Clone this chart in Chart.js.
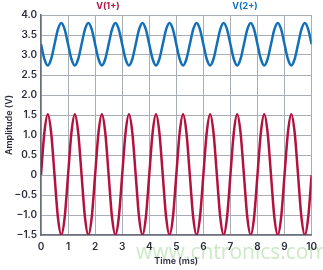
<!DOCTYPE html>
<html>
<head>
<meta charset="utf-8">
<script src="https://cdn.jsdelivr.net/npm/chart.js@4/dist/chart.umd.min.js"></script>
<style>
  html, body { margin: 0; background: #fff; }
  #wrap { width: 323px; height: 270px; }
</style>
</head>
<body>
<div id="wrap"><canvas id="chart" width="323" height="270"></canvas></div>
<script>
const timeMs = [
  0, 0.125, 0.25, 0.375, 0.5, 0.625, 0.75, 0.875,
  1, 1.125, 1.25, 1.375, 1.5, 1.625, 1.75, 1.875,
  2, 2.125, 2.25, 2.375, 2.5, 2.625, 2.75, 2.875,
  3, 3.125, 3.25, 3.375, 3.5, 3.625, 3.75, 3.875,
  4, 4.125, 4.25, 4.375, 4.5, 4.625, 4.75, 4.875,
  5, 5.125, 5.25, 5.375, 5.5, 5.625, 5.75, 5.875,
  6, 6.125, 6.25, 6.375, 6.5, 6.625, 6.75, 6.875,
  7, 7.125, 7.25, 7.375, 7.5, 7.625, 7.75, 7.875,
  8, 8.125, 8.25, 8.375, 8.5, 8.625, 8.75, 8.875,
  9, 9.125, 9.25, 9.375, 9.5, 9.625, 9.75, 9.875,
  10
];
const v1 = [
  0, 1.06, 1.52, 1.06, 0, -1.06, -1.5, -1.06,
  0, 1.06, 1.52, 1.06, 0, -1.06, -1.5, -1.06,
  0, 1.06, 1.52, 1.06, 0, -1.06, -1.5, -1.06,
  0, 1.06, 1.52, 1.06, 0, -1.06, -1.5, -1.06,
  0, 1.06, 1.52, 1.06, 0, -1.06, -1.5, -1.06,
  0, 1.06, 1.52, 1.06, 0, -1.06, -1.5, -1.06,
  0, 1.06, 1.52, 1.06, 0, -1.06, -1.5, -1.06,
  0, 1.06, 1.52, 1.06, 0, -1.06, -1.5, -1.06,
  0, 1.06, 1.52, 1.06, 0, -1.06, -1.5, -1.06,
  0, 1.06, 1.52, 1.06, 0, -1.06, -1.5, -1.06,
  0
];
const v2 = [
  3.27, 2.9, 2.74, 2.9, 3.27, 3.64, 3.8, 3.64,
  3.27, 2.9, 2.74, 2.9, 3.27, 3.64, 3.8, 3.64,
  3.27, 2.9, 2.74, 2.9, 3.27, 3.64, 3.8, 3.64,
  3.27, 2.9, 2.74, 2.9, 3.27, 3.64, 3.8, 3.64,
  3.27, 2.9, 2.74, 2.9, 3.27, 3.64, 3.8, 3.64,
  3.27, 2.9, 2.74, 2.9, 3.27, 3.64, 3.8, 3.64,
  3.27, 2.9, 2.74, 2.9, 3.27, 3.64, 3.8, 3.64,
  3.27, 2.9, 2.74, 2.9, 3.27, 3.64, 3.8, 3.64,
  3.27, 2.9, 2.74, 2.9, 3.27, 3.64, 3.8, 3.64,
  3.27, 2.9, 2.74, 2.9, 3.27, 3.64, 3.8, 3.64,
  3.27
];

const red = '#b3123f';
const blue = '#1270b8';
const ink = '#2b2d3c';
const grid = '#a9adb5';

const points = (ys) => ys.map((y, i) => ({ x: timeMs[i], y }));

const extras = {
  id: 'extras',
  beforeDraw(chart) {
    const ctx = chart.ctx;
    ctx.save();
    ctx.font = '21px "Open Sans"';
    ctx.fillStyle = 'rgba(160, 215, 150, 0.55)';
    ctx.textAlign = 'center';
    ctx.textBaseline = 'middle';
    ctx.fillText('www.cntronics.com', 232, 253);
    ctx.restore();
  },
  afterDraw(chart) {
    const ctx = chart.ctx;
    ctx.save();
    ctx.font = '700 9px Inter';
    ctx.textAlign = 'center';
    ctx.textBaseline = 'middle';
    ctx.fillStyle = red;
    ctx.fillText('V(1+)', 108, 6);
    ctx.fillStyle = blue;
    ctx.fillText('V(2+)', 245, 6);
    ctx.restore();
  }
};

new Chart(document.getElementById('chart'), {
  type: 'line',
  data: {
    datasets: [
      { label: 'V(2+)', data: points(v2), borderColor: blue, borderWidth: 2.5, pointRadius: 0, cubicInterpolationMode: 'monotone' },
      { label: 'V(1+)', data: points(v1), borderColor: red, borderWidth: 2.5, pointRadius: 0, cubicInterpolationMode: 'monotone' }
    ]
  },
  options: {
    responsive: false,
    animation: false,
    layout: { padding: { top: 15, right: 8, left: 0, bottom: 0 } },
    plugins: { legend: { display: false }, tooltip: { enabled: false } },
    scales: {
      x: {
        type: 'linear',
        min: 0,
        max: 10,
        afterFit: (scale) => { scale.height = 35; },
        grid: { color: grid, drawTicks: false },
        border: { color: '#6b7080', width: 1.5 },
        ticks: { stepSize: 1, padding: 6, color: ink, font: { family: 'Inter', size: 10, weight: '600' } },
        title: { display: true, text: 'Time (ms)', color: ink, padding: { top: 0, bottom: 3 }, font: { family: 'Inter', size: 9, weight: '600' } }
      },
      y: {
        min: -1.5,
        max: 4,
        afterFit: (scale) => { scale.width = 41; },
        grid: { color: grid, drawTicks: false },
        border: { color: '#6b7080', width: 1.5 },
        ticks: {
          stepSize: 0.5,
          padding: 4,
          color: ink,
          font: { family: 'Inter', size: 10, weight: '600' },
          callback: (v) => (v === 0 ? '0' : v.toFixed(1).replace('-', '\u2212'))
        },
        title: { display: true, text: 'Amplitude (V)', color: ink, padding: { top: 4, bottom: 0 }, font: { family: 'Inter', size: 9, weight: '600' } }
      }
    }
  },
  plugins: [extras]
});
</script>
</body>
</html>
